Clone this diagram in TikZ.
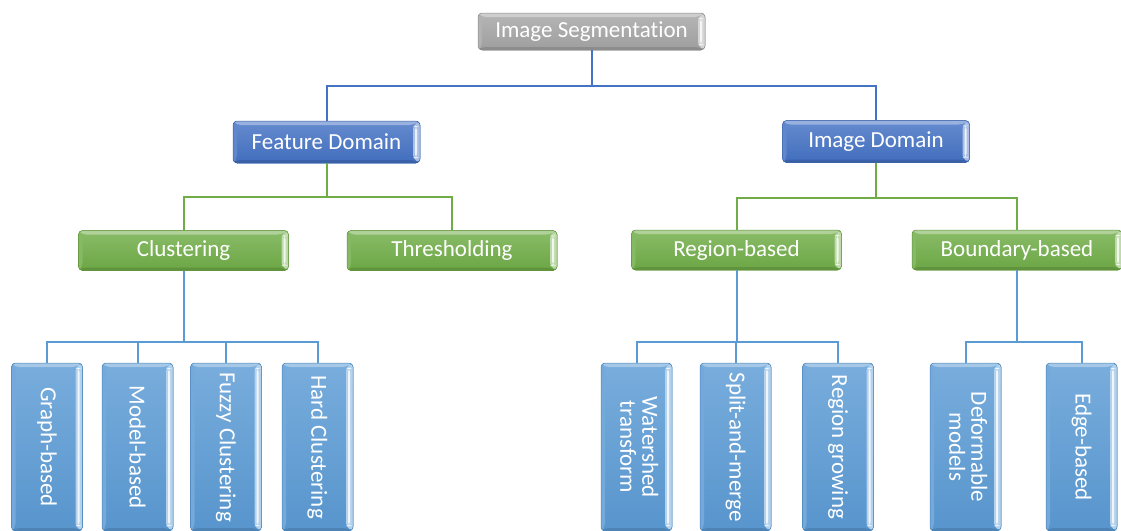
\documentclass[tikz,border=0pt]{standalone}
\usepackage{fontspec}
\setmainfont{Carlito}[Ligatures=NoCommon]
\definecolor{rootGray}{HTML}{A5A5A5}
\definecolor{domBlue}{HTML}{4472C4}
\definecolor{catGreen}{HTML}{70AD47}
\definecolor{leafBlue}{HTML}{5B9BD5}

\tikzset{
  bevelbox/.style={
    rounded corners=4pt, fill=#1, draw=#1!85!black, line width=0.5pt,
    text=white, inner sep=0pt, font=\fontsize{23}{26}\selectfont,
    path picture={
      \fill[top color=#1!82!white, bottom color=#1!96!black]
        (path picture bounding box.north west) rectangle (path picture bounding box.south east);
      % upper bevel
      \fill[#1!55!white]
        (path picture bounding box.north west) -- (path picture bounding box.north east)
        -- ([xshift=-7pt,yshift=-4pt]path picture bounding box.north east)
        -- ([xshift=4pt,yshift=-4pt]path picture bounding box.north west) -- cycle;
      % left bevel
      \fill[#1!85!white]
        (path picture bounding box.north west)
        -- ([xshift=4pt,yshift=-4pt]path picture bounding box.north west)
        -- ([xshift=4pt,yshift=4pt]path picture bounding box.south west)
        -- (path picture bounding box.south west) -- cycle;
      % right bevel, the bright edge
      \fill[#1!45!white]
        (path picture bounding box.north east)
        -- ([xshift=-7pt,yshift=-4pt]path picture bounding box.north east)
        -- ([xshift=-7pt,yshift=4pt]path picture bounding box.south east)
        -- (path picture bounding box.south east) -- cycle;
      \fill[#1!10!white]
        ([xshift=-5pt,yshift=-5pt]path picture bounding box.north east)
        rectangle ([xshift=-3pt,yshift=5pt]path picture bounding box.south east);
      % lower bevel
      \fill[#1!85!black]
        (path picture bounding box.south west)
        -- ([xshift=4pt,yshift=3pt]path picture bounding box.south west)
        -- ([xshift=-7pt,yshift=3pt]path picture bounding box.south east)
        -- (path picture bounding box.south east) -- cycle;
    }},
  rootbox/.style={bevelbox=rootGray, minimum width=227pt, minimum height=37pt},
  dombox/.style={bevelbox=domBlue, minimum width=187pt, minimum height=42pt},
  catbox/.style={bevelbox=catGreen, minimum width=210pt, minimum height=40pt},
  leafbox/.style={bevelbox=leafBlue, minimum width=71pt, minimum height=168pt},
  link/.style={line width=2pt, draw=#1},
}
\newcommand{\vtext}[1]{\rotatebox{-90}{#1}}
\newcommand{\vtwo}[2]{\rotatebox{-90}{\begin{tabular}{@{}c@{}}#1\\[-4pt]#2\end{tabular}}}

\begin{document}
\begin{tikzpicture}[x=1pt,y=-1pt]
  \useasboundingbox (0,0) rectangle (1121,530);
  \clip (0,0) rectangle (1121,530);

  % tree nodes
  \node[rootbox] (root) at (591.5,31.5) {Image Segmentation};

  \node[dombox] (fd) at (326.5,142) {Feature Domain};
  \node[dombox] (id) at (876,141.5) {Image Domain};

  \node[catbox] (clu) at (183.5,250.5) {Clustering};
  \node[catbox] (thr) at (452,250.5) {Thresholding};
  \node[catbox] (reg) at (736.5,250) {Region-based};
  \node[catbox] (bnd) at (1017,250) {Boundary-based};

  \node[leafbox] (gb) at (47,447) {\vtext{Graph-based}};
  \node[leafbox] (mb) at (137.5,447) {\vtext{Model-based}};
  \node[leafbox] (fc) at (226,447) {\vtext{Fuzzy Clustering}};
  \node[leafbox] (hc) at (317.5,447) {\vtext{Hard Clustering}};

  \node[leafbox] (ws) at (636.5,447) {\vtwo{Watershed}{transform}};
  \node[leafbox] (sm) at (735.5,447) {\vtext{Split-and-merge}};
  \node[leafbox] (rg) at (838,447) {\vtext{Region growing}};
  \node[leafbox] (dm) at (965.5,447) {\vtwo{Deformable}{models}};
  \node[leafbox] (eb) at (1081.5,447) {\vtext{Edge-based}};

  % connectors
  \draw[link=domBlue] (root.south) -- ++(0,36) -| (fd.north);
  \draw[link=domBlue] (root.south) -- ++(0,36) -| (id.north);

  \draw[link=catGreen] (fd.south) -- ++(0,34) -| (clu.north);
  \draw[link=catGreen] (fd.south) -- ++(0,34) -| (thr.north);
  \draw[link=catGreen] (id.south) -- ++(0,35) -| (reg.north);
  \draw[link=catGreen] (id.south) -- ++(0,35) -| (bnd.north);

  \foreach \leaf in {gb,mb,fc,hc}
    \draw[link=leafBlue] (clu.south) -- ++(0,71.5) -| (\leaf.north);
  \foreach \leaf in {ws,sm,rg}
    \draw[link=leafBlue] (reg.south) -- ++(0,72) -| (\leaf.north);
  \foreach \leaf in {dm,eb}
    \draw[link=leafBlue] (bnd.south) -- ++(0,72) -| (\leaf.north);
\end{tikzpicture}
\end{document}
